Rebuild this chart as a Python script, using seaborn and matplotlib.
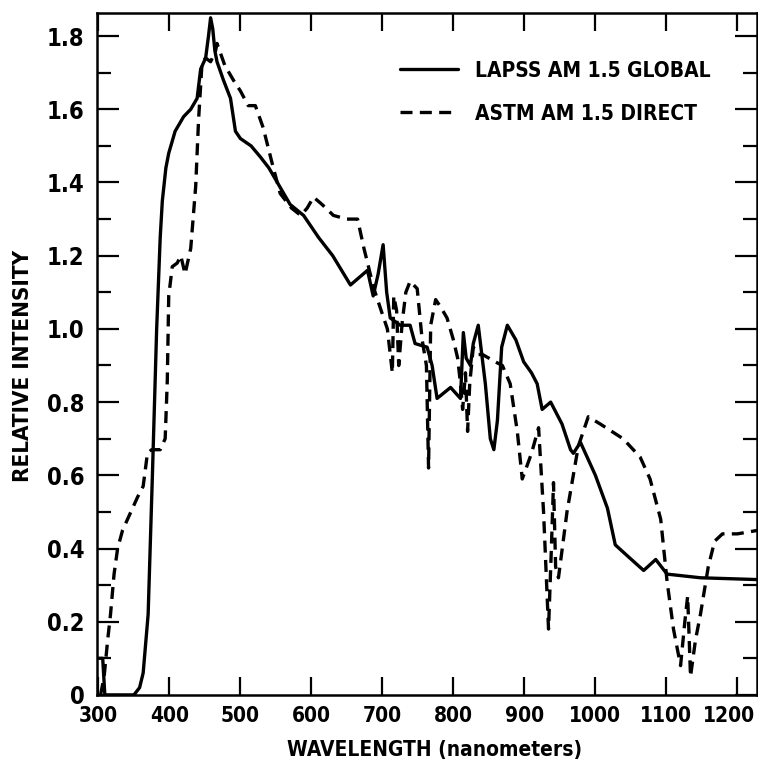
import numpy as np
import pandas as pd
import matplotlib
matplotlib.use("Agg")
import matplotlib.pyplot as plt
import matplotlib.transforms as mtransforms
import seaborn as sns
from matplotlib.lines import Line2D
from matplotlib.ticker import MultipleLocator

# ---- data ----
global_nm = [300, 306, 309, 350, 358, 363, 370, 376, 382, 387, 390, 395, 399, 408, 420, 430,
             439, 444, 451, 455, 458, 461, 464, 467, 476, 486, 493, 500, 515, 528, 540, 552,
             570, 589, 610, 630, 655, 679, 687, 694, 701, 706, 711, 718, 725, 739, 746, 763,
             770, 777, 796, 810, 814, 818, 824, 828, 835, 845, 852, 857, 862, 868, 876, 888,
             899, 910, 918, 925, 937, 953, 965, 969, 979, 1000, 1017, 1028, 1045, 1068, 1085,
             1101, 1148, 1230]
global_int = [0.10, 0.10, 0.0, 0.0, 0.02, 0.06, 0.22, 0.60, 1.00, 1.25, 1.35, 1.44, 1.48, 1.54,
              1.58, 1.60, 1.63, 1.71, 1.74, 1.80, 1.85, 1.82, 1.76, 1.73, 1.68, 1.63, 1.54, 1.52,
              1.50, 1.47, 1.44, 1.40, 1.34, 1.31, 1.25, 1.20, 1.12, 1.16, 1.09, 1.15, 1.23, 1.10,
              1.03, 1.02, 1.01, 1.01, 0.96, 0.95, 0.90, 0.81, 0.84, 0.81, 0.99, 0.92, 0.90, 0.96,
              1.01, 0.85, 0.70, 0.67, 0.75, 0.95, 1.01, 0.97, 0.91, 0.88, 0.85, 0.78, 0.80, 0.74,
              0.67, 0.66, 0.69, 0.60, 0.51, 0.41, 0.38, 0.34, 0.37, 0.33, 0.32, 0.315]

direct_nm = [303, 308, 313, 317, 322, 327, 334, 341, 348, 355, 363, 369, 375, 387, 394, 397,
             399, 404, 411, 416, 422, 430, 437, 441, 446, 451, 458, 465, 467, 478, 490, 500,
             511, 521, 532, 545, 556, 572, 585, 594, 603, 615, 631, 650, 665, 674, 688, 700,
             707, 714, 716, 720, 723, 728, 733, 739, 749, 756, 762, 765, 768, 775, 782, 791,
             800, 806, 810, 813, 817, 820, 823, 828, 835, 841, 859, 869, 880, 890, 897, 910,
             920, 927, 934, 938, 941, 944, 948, 960, 976, 990, 1007, 1039, 1063, 1077, 1092,
             1101, 1110, 1120, 1126, 1130, 1134, 1141, 1148, 1159, 1168, 1179, 1200, 1230]
direct_int = [0.0, 0.05, 0.15, 0.22, 0.33, 0.40, 0.45, 0.48, 0.51, 0.54, 0.57, 0.66, 0.67,
              0.67, 0.70, 0.86, 1.09, 1.17, 1.18, 1.20, 1.15, 1.22, 1.39, 1.57, 1.73, 1.74,
              1.73, 1.76, 1.78, 1.72, 1.68, 1.65, 1.61, 1.61, 1.55, 1.45, 1.37, 1.33, 1.31,
              1.33, 1.36, 1.34, 1.31, 1.30, 1.30, 1.22, 1.11, 1.04, 1.00, 0.88, 1.09, 1.05,
              0.90, 1.02, 1.10, 1.13, 1.11, 0.97, 0.90, 0.62, 1.01, 1.08, 1.06, 1.03, 0.97,
              0.92, 0.85, 0.78, 0.88, 0.72, 0.85, 0.95, 0.93, 0.93, 0.91, 0.90, 0.85, 0.72,
              0.59, 0.66, 0.73, 0.50, 0.18, 0.40, 0.58, 0.35, 0.32, 0.50, 0.68, 0.76, 0.74,
              0.70, 0.65, 0.59, 0.48, 0.31, 0.18, 0.08, 0.20, 0.27, 0.05, 0.15, 0.22, 0.35,
              0.42, 0.44, 0.44, 0.45]

series_labels = ["LAPSS AM 1.5 GLOBAL", "ASTM AM 1.5 DIRECT"]
x_ticks = [300, 400, 500, 600, 700, 800, 900, 1000, 1100, 1200]
y_ticks = [0, 0.2, 0.4, 0.6, 0.8, 1.0, 1.2, 1.4, 1.6, 1.8]
y_tick_labels = ["0", "0.2", "0.4", "0.6", "0.8", "1.0", "1.2", "1.4", "1.6", "1.8"]

sns.set_style("ticks")
plt.rcParams["font.family"] = ["DejaVu Sans"]
plt.rcParams["font.stretch"] = "condensed"
plt.rcParams["font.weight"] = "bold"
plt.rcParams["axes.labelweight"] = "bold"
plt.rcParams["text.color"] = "black"
plt.rcParams["xtick.color"] = "black"
plt.rcParams["ytick.color"] = "black"
plt.rcParams["axes.edgecolor"] = "black"
plt.rcParams["axes.labelcolor"] = "black"

fig = plt.figure(figsize=(7.58, 7.67), dpi=100)
ax = fig.add_axes([0.128, 0.094, 0.871, 0.889])

dash = (0, (3.6, 2.2))
df_g = pd.DataFrame({"nm": global_nm, "v": global_int})
df_d = pd.DataFrame({"nm": direct_nm, "v": direct_int})
sns.lineplot(data=df_g, x="nm", y="v", ax=ax, color="black", lw=2.4,
             estimator=None, sort=False)
sns.lineplot(data=df_d, x="nm", y="v", ax=ax, color="black", lw=2.4,
             estimator=None, sort=False, linestyle=dash)

ax.set_xlim(298, 1228)
ax.set_ylim(0, 1.863)
ax.set_xticks(x_ticks)
ax.set_xticklabels([str(t) for t in x_ticks])
ax.set_yticks(y_ticks)
ax.set_yticklabels(y_tick_labels)
ax.yaxis.set_minor_locator(MultipleLocator(0.1))
ax.tick_params(axis="x", which="major", direction="in", length=13, width=1.6,
               top=True, labelsize=15, pad=8)
ax.tick_params(axis="y", which="major", direction="in", length=16, width=1.6,
               right=True, labelsize=17, pad=9)
ax.tick_params(axis="y", which="minor", direction="in", length=10, width=1.6,
               left=True, right=True)
for s in ax.spines.values():
    s.set_linewidth(1.8)

# keep the last x tick label inside the figure, as in the reference
last = ax.get_xticklabels()[-1]
last.set_transform(last.get_transform() +
                   mtransforms.ScaledTranslation(-6 / 72, 0, fig.dpi_scale_trans))

ax.set_xlabel("WAVELENGTH (nanometers)", fontsize=15)
ax.xaxis.set_label_coords(0.512, -0.066)
ax.set_ylabel("RELATIVE INTENSITY", fontsize=16)
ax.yaxis.set_label_coords(-0.097, 0.482)

handles = [Line2D([], [], color="black", lw=2.4),
           Line2D([], [], color="black", lw=2.4, linestyle=dash)]
ax.legend(handles, series_labels, loc="upper left", bbox_to_anchor=(0.459, 0.930),
          frameon=False, fontsize=15, handlelength=2.8, handletextpad=0.8,
          labelspacing=1.1, borderpad=0, borderaxespad=0)

fig.savefig("out.png", dpi=100)
